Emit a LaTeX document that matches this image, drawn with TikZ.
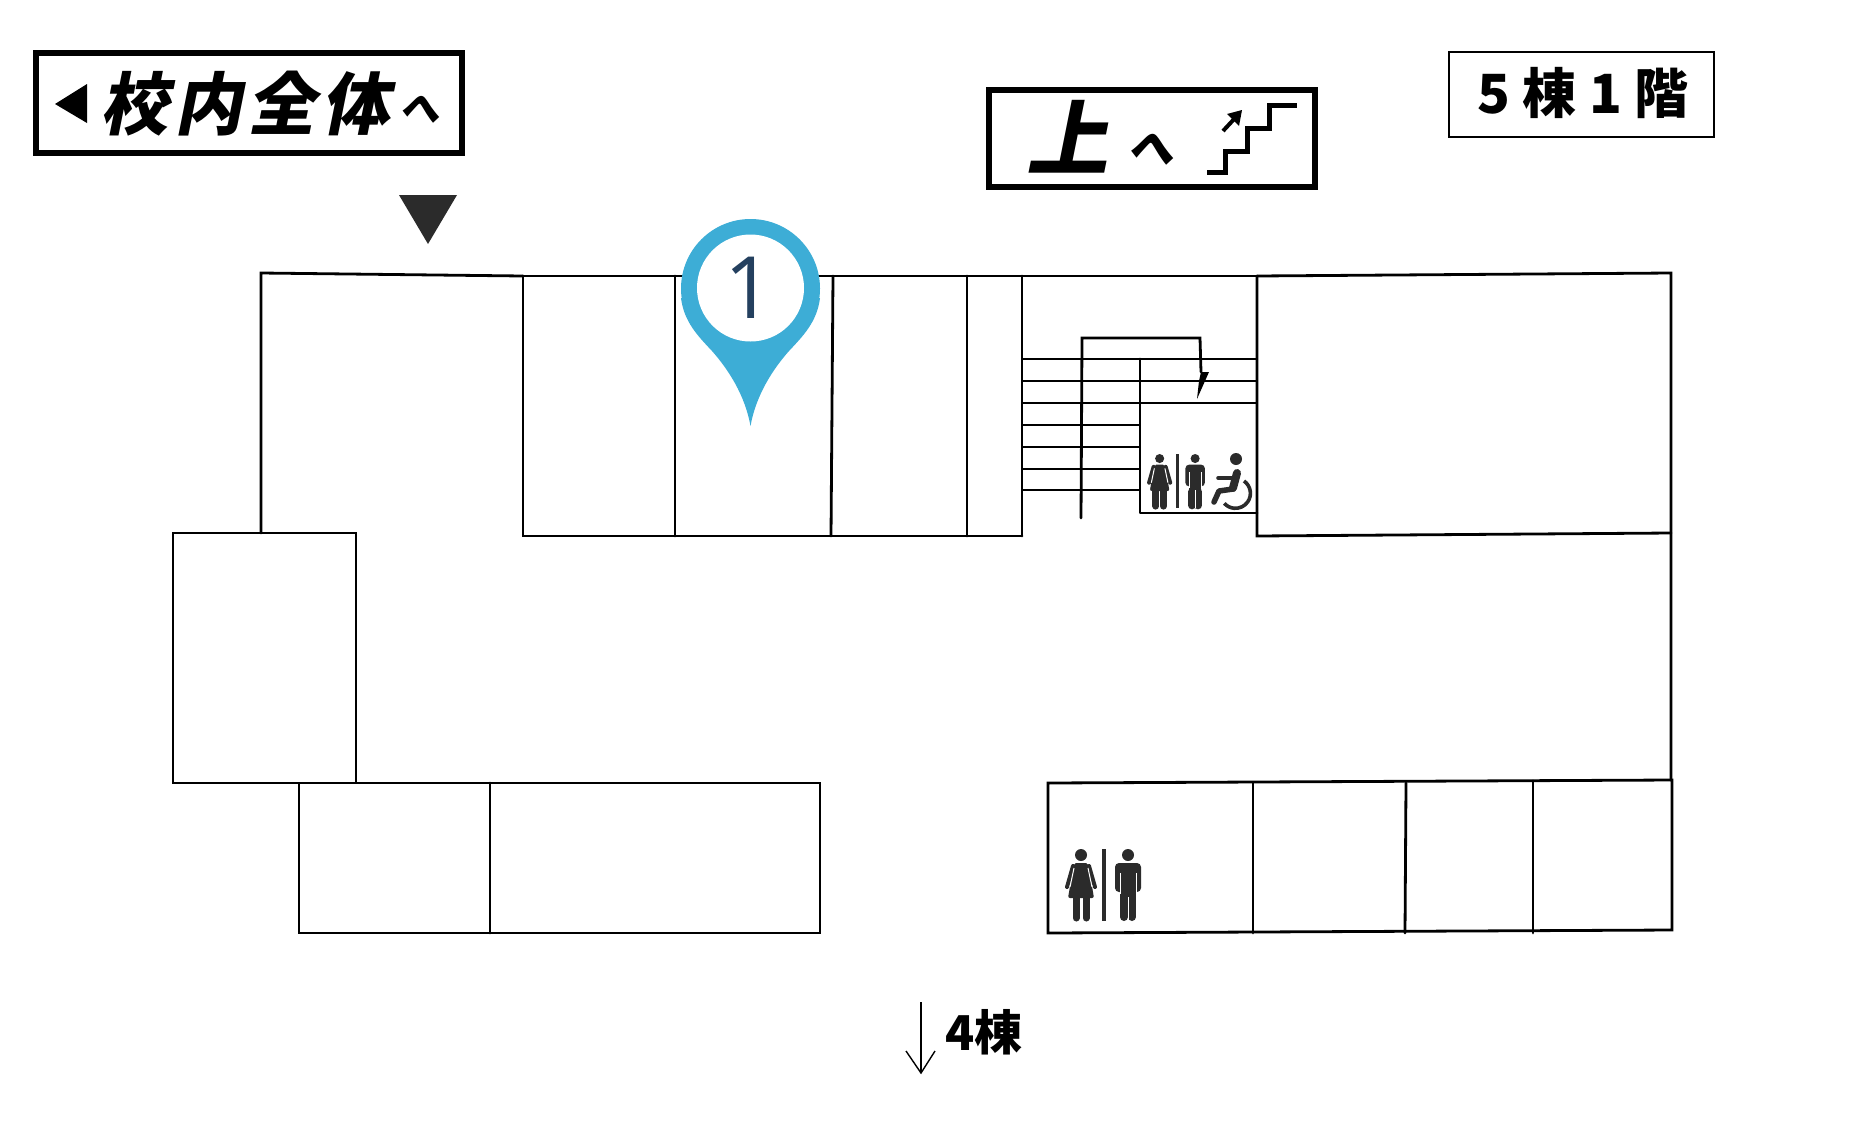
\documentclass[tikz,border=0pt]{standalone}
\usepackage{fontspec}
\setmainfont{Liberation Serif}
\newfontfamily\jp{Noto Sans CJK JP}
\newfontfamily\jpslant{Noto Sans CJK JP}[FakeSlant=0.2]
\newfontfamily\jpslantwide{Noto Sans CJK JP}[FakeSlant=0.2,LetterSpace=8]
\newfontfamily\pinfont{Open Sans}
\definecolor{icon}{HTML}{2B2B2B}
\definecolor{pinblue}{HTML}{3DADD6}
\definecolor{pinnum}{HTML}{24405F}
\tikzset{
  wall/.style={draw=black,line width=2.8pt,line join=miter,line cap=round},
  thin wall/.style={draw=black,line width=1.8pt},
  signbox/.style={draw=black,fill=white},
  slant label/.style={inner sep=0pt,font=\jpslant\bfseries},
  plain label/.style={inner sep=0pt,font=\jp\bfseries},
  wc/.pic={
    \fill[icon] (-23,6) circle (6);
    % woman
    \fill[icon,rounded corners=2] (-30,14) -- (-16,14) -- (-10,49) -- (-36,49) -- cycle;
    \draw[icon,line width=4pt,line cap=round] (-31,17) -- (-37,38);
    \draw[icon,line width=4pt,line cap=round] (-15,17) -- (-9,38);
    \draw[white,line width=1pt] (-30,19) -- (-34,38);
    \draw[white,line width=1pt] (-16,19) -- (-12,38);
    \draw[icon,line width=7pt,line cap=round] (-28,49) -- (-28,69);
    \draw[icon,line width=7pt,line cap=round] (-18,49) -- (-18,69);
    % divider
    \fill[icon] (-2,0) rectangle (2,72);
    % man
    \fill[icon] (24,6) circle (6);
    \fill[icon,rounded corners=4] (11,14) rectangle (37,43);
    \fill[icon] (16,30) rectangle (32,60);
    \draw[icon,line width=8pt,line cap=round] (20,50) -- (20,68);
    \draw[icon,line width=8pt,line cap=round] (28,50) -- (28,68);
    \draw[white,line width=1pt] (16,24) -- (16,45);
    \draw[white,line width=1pt] (32,24) -- (32,45);
    \draw[white,line width=1pt] (24,48) -- (24,72);
  }
}
\begin{document}
\begin{tikzpicture}[x=1pt,y=-1pt]
\useasboundingbox (0,0) rectangle (1868,1125);
\fill[white] (0,0) rectangle (1868,1125);

% floor plan
\draw[wall] (523,276) -- (261,273) -- (261,533);
\draw[wall] (173,533) rectangle (356,783);
\draw[wall] (299,783) rectangle (820,933);
\draw[wall] (490,783) -- (490,933);
\draw[wall] (523,276) -- (1257,276);
\draw[wall] (523,276) -- (523,536) -- (1022,536);
\draw[wall] (675,276) -- (675,536);
\draw[wall] (833,276) -- (831,536);
\draw[wall] (967,276) -- (967,536);
\draw[wall] (1022,276) -- (1022,536);
\draw[wall] (1257,276) -- (1671,273) -- (1671,780);
\draw[wall] (1257,276) -- (1257,536) -- (1671,533);
\draw[wall] (1048,783) -- (1672,780) -- (1672,930) -- (1048,933) -- cycle;
\draw[wall] (1253,783) -- (1253,933);
\draw[wall] (1406,783) -- (1405,933);
\draw[wall] (1533,781) -- (1533,933);

% stairs
\foreach \yy in {359,381,403} \draw[thin wall] (1022,\yy) -- (1257,\yy);
\foreach \yy in {425,447,469,490} \draw[thin wall] (1022,\yy) -- (1140,\yy);
\draw[wall] (1081,518) -- (1082,338) -- (1200,338) -- (1201,372);
\draw[wall,line join=bevel] (1140,359) -- (1140,513) -- (1257,513);
\fill[black] (1201,372) -- (1209,372) -- (1197,399) -- (1199,381) -- cycle;

% large toilets
\path (1104,849) pic {wc};
% small toilets
\path (1177,454) pic[scale=0.755] {wc};
% wheelchair
\fill[icon] (1236,459) circle (6);
\draw[icon,line width=8pt,line cap=round] (1237,473) -- (1233,488);
\draw[icon,line width=3.6pt,line cap=round] (1218,478) -- (1233,478);
\draw[icon,line width=5.5pt,line cap=round,line join=round] (1233,489) -- (1219,491) -- (1214,502);
\draw[icon,line width=3.6pt] (1244,481) arc[start angle=55,end angle=-138,radius=15pt];

% pin
\fill[pinblue] (750.5,288.5) circle (69.5);
\fill[pinblue] (681,298) .. controls (684,322) and (698,336) .. (712,351)
  .. controls (728,369) and (745,395) .. (750.5,426)
  .. controls (756,395) and (773,369) .. (789,351)
  .. controls (803,336) and (817,322) .. (820,298) -- cycle;
\fill[white] (750.5,288) circle (53.5);
\node[inner sep=0pt,text=pinnum,font=\pinfont\fontsize{86}{86}\selectfont] (pinlabel) at (749,288) {1};

% entry triangle
\fill[icon] (399,195) -- (457,195) -- (428,244) -- cycle;

% sign whole campus
\draw[signbox,line width=6pt] (36,53) rectangle (462,153);
\fill[black] (55,104) -- (87,84) -- (87,123) -- cycle;
\node[inner sep=0pt,font=\jpslantwide\bfseries\fontsize{68}{68}\selectfont] (campus) at (245,104) {校内全体};
\node[slant label,font=\jpslant\bfseries\fontsize{40}{40}\selectfont] (campuse) at (419,109) {へ};

% sign up
\draw[signbox,line width=5.5pt] (989,90) rectangle (1315,187);
\node[slant label,font=\jpslant\bfseries\fontsize{82}{82}\selectfont] (ue) at (1067,137) {上};
\node[slant label,font=\jpslant\bfseries\fontsize{46}{46}\selectfont] (uee) at (1150,149) {へ};
\draw[line width=5pt,miter limit=2] (1207,172) -- (1225,172) -- (1225,151) -- (1247,151) -- (1247,128) -- (1269,128) -- (1269,105) -- (1297,105);
\draw[line width=4pt] (1223,131) -- (1236,117);
\fill[black] (1242,110) -- (1239,126) -- (1227,114) -- cycle;

% sign floor
\draw[signbox,line width=2.8pt] (1449,52) rectangle (1714,137);
\node[plain label,font=\jp\bfseries\fontsize{54}{54}\selectfont] (floor) at (1583,93) {5 棟 1 階};

% arrow to building 4
\coordinate (ahead) at (921,1002);
\coordinate (atip) at (921,1073);
\draw[line width=1.4pt] (ahead) -- (atip);
\draw[line width=1.4pt] (906,1051) -- (atip) -- (935,1051);
\node[plain label,font=\jp\bfseries\fontsize{48}{48}\selectfont] (b4) at (984,1032) {4棟};
\end{tikzpicture}
\end{document}
